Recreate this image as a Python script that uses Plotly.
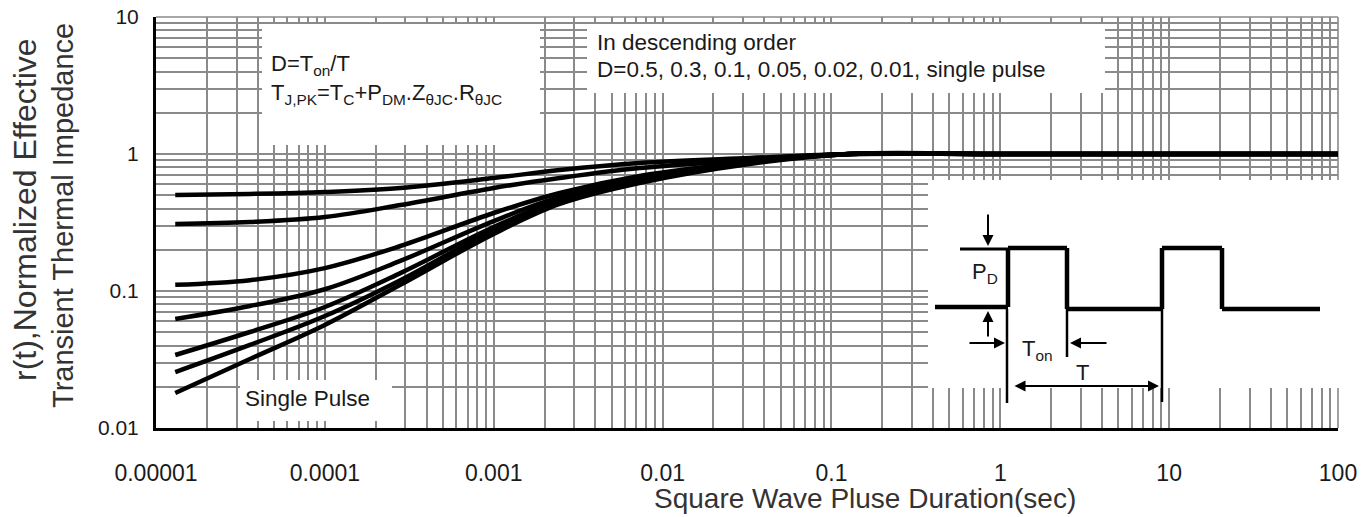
import plotly.graph_objects as go

# ---- data ----
t_sec = [1.3e-5, 3.6e-5, 1.0e-4, 2.8e-4, 1.0e-3, 2.46e-3, 7.3e-3, 3.27e-2, 0.128, 1, 100]
r_d050 = [0.502, 0.511, 0.528, 0.565, 0.668, 0.764, 0.860, 0.935, 1.0, 1.0, 1.0]
r_d030 = [0.308, 0.319, 0.347, 0.424, 0.565, 0.668, 0.790, 0.904, 1.0, 1.0, 1.0]
r_d010 = [0.111, 0.120, 0.147, 0.213, 0.371, 0.519, 0.691, 0.874, 1.0, 1.0, 1.0]
r_d005 = [0.0625, 0.0777, 0.103, 0.166, 0.324, 0.486, 0.657, 0.874, 1.0, 1.0, 1.0]
r_d002 = [0.0341, 0.0502, 0.0764, 0.135, 0.293, 0.462, 0.635, 0.860, 1.0, 1.0, 1.0]
r_d001 = [0.0256, 0.0404, 0.0657, 0.120, 0.279, 0.446, 0.625, 0.860, 1.0, 1.0, 1.0]
r_single = [0.0180, 0.0319, 0.0565, 0.111, 0.261, 0.432, 0.614, 0.845, 1.0, 1.0, 1.0]
series_names = ["D=0.5", "D=0.3", "D=0.1", "D=0.05", "D=0.02", "D=0.01", "Single Pulse"]

x_tickvals = [1e-5, 1e-4, 1e-3, 1e-2, 1e-1, 1, 10, 100]
x_ticktext = ["0.00001", "0.0001", "0.001", "0.01", "0.1", "1", "10", "100"]
y_tickvals = [0.01, 0.1, 1, 10]
y_ticktext = ["0.01", "0.1", "1", "10"]

# ---- layout geometry (screen pixels; the page body adds an 8 px margin) ----
OFF = 8
W, H = 1369 - OFF, 517 - OFF
L, R, T, B = 156, 1338, 17, 428
FONT = "Liberation Sans, Arial, sans-serif"
GRID = "#8a8a8a"


def dx(p):
    return (p - L) / (R - L)


def dy(p):
    return (B - p) / (B - T)


fig = go.Figure()
for name, vals in zip(series_names,
                      [r_d050, r_d030, r_d010, r_d005, r_d002, r_d001, r_single]):
    fig.add_trace(go.Scatter(x=t_sec, y=vals, mode="lines", name=name,
                             line=dict(color="black", width=4.5, shape="spline", smoothing=1.0),
                             showlegend=False))

shapes = []
# grey plot edges (top and right), like the grid lines
shapes.append(dict(type="line", xref="x domain", yref="y domain", x0=1, x1=1, y0=0, y1=1,
                   line=dict(color=GRID, width=1.6), layer="below"))
# white boxes that blank the grid (a thin strip is left where the ticks show)
for (x0, y0, x1, y1) in [(262, 24, 540, 145), (587, 24, 1105, 93),
                         (240, 380, 392, 421), (928, 180, 1342, 388)]:
    shapes.append(dict(type="rect", xref="x domain", yref="y domain",
                       x0=dx(x0), x1=dx(x1), y0=dy(y1), y1=dy(y0),
                       fillcolor="white", line=dict(width=0), layer="above"))
shapes.append(dict(type="line", xref="x domain", yref="y domain", x0=0, x1=1, y0=1, y1=1,
                   line=dict(color=GRID, width=1.6), layer="above"))


def seg(a, b, w):
    return dict(type="line", xref="x domain", yref="y domain",
                x0=dx(a[0]), y0=dy(a[1]), x1=dx(b[0]), y1=dy(b[1]),
                line=dict(color="black", width=w), layer="above")


# inset: pulse train diagram
wave = [(935, 307), (1008, 307), (1008, 248), (1067, 248), (1067, 309), (1162, 309),
        (1162, 248), (1222, 248), (1222, 309), (1320, 309)]
for a, b in zip(wave[:-1], wave[1:]):
    shapes.append(seg(a, b, 4.5))
shapes.append(seg((960, 249), (1008, 249), 3))
shapes.append(seg((1007, 309), (1007, 403), 2.5))
shapes.append(seg((1067, 309), (1067, 357), 2.5))
shapes.append(seg((1162, 309), (1162, 402), 2.5))

ann = []
txt = dict(family=FONT, size=22, color="#1a1a1a")
ann.append(dict(x=dx(269), y=dy(65), xref="x domain", yref="y domain", xanchor="left",
                yanchor="middle", showarrow=False, text="D=T<sub>on</sub>/T", font=txt))
ann.append(dict(x=dx(269), y=dy(94), xref="x domain", yref="y domain", xanchor="left",
                yanchor="middle", showarrow=False,
                text="T<sub>J,PK</sub>=T<sub>C</sub>+P<sub>DM</sub>.Z<sub>θJC</sub>.R<sub>θJC</sub>",
                font=txt))
txt2 = dict(family=FONT, size=22.5, color="#1a1a1a")
ann.append(dict(x=dx(595), y=dy(42), xref="x domain", yref="y domain", xanchor="left",
                yanchor="middle", showarrow=False, text="In descending order", font=txt2))
ann.append(dict(x=dx(595), y=dy(70), xref="x domain", yref="y domain", xanchor="left",
                yanchor="middle", showarrow=False,
                text="D=0.5, 0.3, 0.1, 0.05, 0.02, 0.01, single pulse", font=txt2))
ann.append(dict(x=dx(307), y=dy(398), xref="x domain", yref="y domain", xanchor="center",
                yanchor="middle", showarrow=False, text="Single Pulse", font=txt2))
ann.append(dict(x=dx(985), y=dy(273), xref="x domain", yref="y domain", xanchor="center",
                yanchor="middle", showarrow=False, text="P<sub>D</sub>", font=txt))
ann.append(dict(x=dx(1037), y=dy(350), xref="x domain", yref="y domain", xanchor="center",
                yanchor="middle", showarrow=False, text="T<sub>on</sub>", font=txt))
ann.append(dict(x=dx(1082), y=dy(372), xref="x domain", yref="y domain", xanchor="center",
                yanchor="middle", showarrow=False, text="T", font=txt))

arrow = dict(xref="x domain", yref="y domain", axref="pixel", ayref="pixel", showarrow=True,
             arrowhead=2, arrowsize=1.1, arrowwidth=2, arrowcolor="black", text="")
for (tx, ty, ax, ay, side) in [(988, 246, 0, -33, "end"), (988, 311, 0, 27, "end"),
                               (1005, 343, -37, 0, "end"), (1070, 343, 38, 0, "end"),
                               (1159, 386, -146, 0, "end+start")]:
    a = dict(arrow)
    a.update(x=dx(tx), y=dy(ty), ax=ax, ay=ay, arrowside=side)
    ann.append(a)

# axis titles
ttl = dict(family=FONT, size=28, color="#333333")
ann.append(dict(x=dx(865), y=dy(498), xref="x domain", yref="y domain", showarrow=False,
                text="Square Wave Pluse Duration(sec)", font=ttl, xanchor="center", yanchor="middle"))
ann.append(dict(x=dx(25), y=dy(210), xref="x domain", yref="y domain", showarrow=False,
                text="r(t),Normalized Effective", font=dict(family=FONT, size=32, color="#333333"),
                textangle=-90, xanchor="center", yanchor="middle"))
ann.append(dict(x=dx(63), y=dy(216), xref="x domain", yref="y domain", showarrow=False,
                text="Transient Thermal Impedance", font=dict(family=FONT, size=29, color="#333333"),
                textangle=-90, xanchor="center", yanchor="middle"))

xtickfont = dict(family=FONT, size=23, color="#1a1a1a")
ytickfont = dict(family=FONT, size=21, color="#1a1a1a")
fig.update_layout(
    width=W, height=H, margin=dict(l=L - OFF, r=1369 - R, t=T - OFF, b=517 - B, autoexpand=False),
    paper_bgcolor="white", plot_bgcolor="white", showlegend=False,
    shapes=shapes, annotations=ann,
    xaxis=dict(type="log", range=[-5, 2], tickvals=x_tickvals, ticktext=x_ticktext,
               automargin=False, ticklabeloverflow="allow",
               showgrid=True, gridcolor=GRID, gridwidth=1.6,
               showline=True, linecolor="black", linewidth=3, mirror=False,
               ticks="inside", ticklen=7, tickcolor=GRID, tickwidth=1.5,
               ticklabelstandoff=22, tickfont=xtickfont, zeroline=False,
               minor=dict(dtick="D1", showgrid=True, gridcolor=GRID, gridwidth=1.6,
                          ticks="inside", ticklen=7, tickcolor=GRID, tickwidth=1.5)),
    yaxis=dict(type="log", range=[-2, 1], tickvals=y_tickvals, ticktext=y_ticktext,
               automargin=False, ticklabeloverflow="allow",
               showgrid=True, gridcolor=GRID, gridwidth=1.6,
               showline=True, linecolor="black", linewidth=3, mirror=False,
               ticks="inside", ticklen=7, tickcolor=GRID, tickwidth=1.5,
               ticklabelstandoff=10, tickfont=ytickfont, zeroline=False,
               minor=dict(dtick="D1", showgrid=True, gridcolor=GRID, gridwidth=1.6,
                          ticks="inside", ticklen=7, tickcolor=GRID, tickwidth=1.5)),
)

fig.write_html("out.html")
